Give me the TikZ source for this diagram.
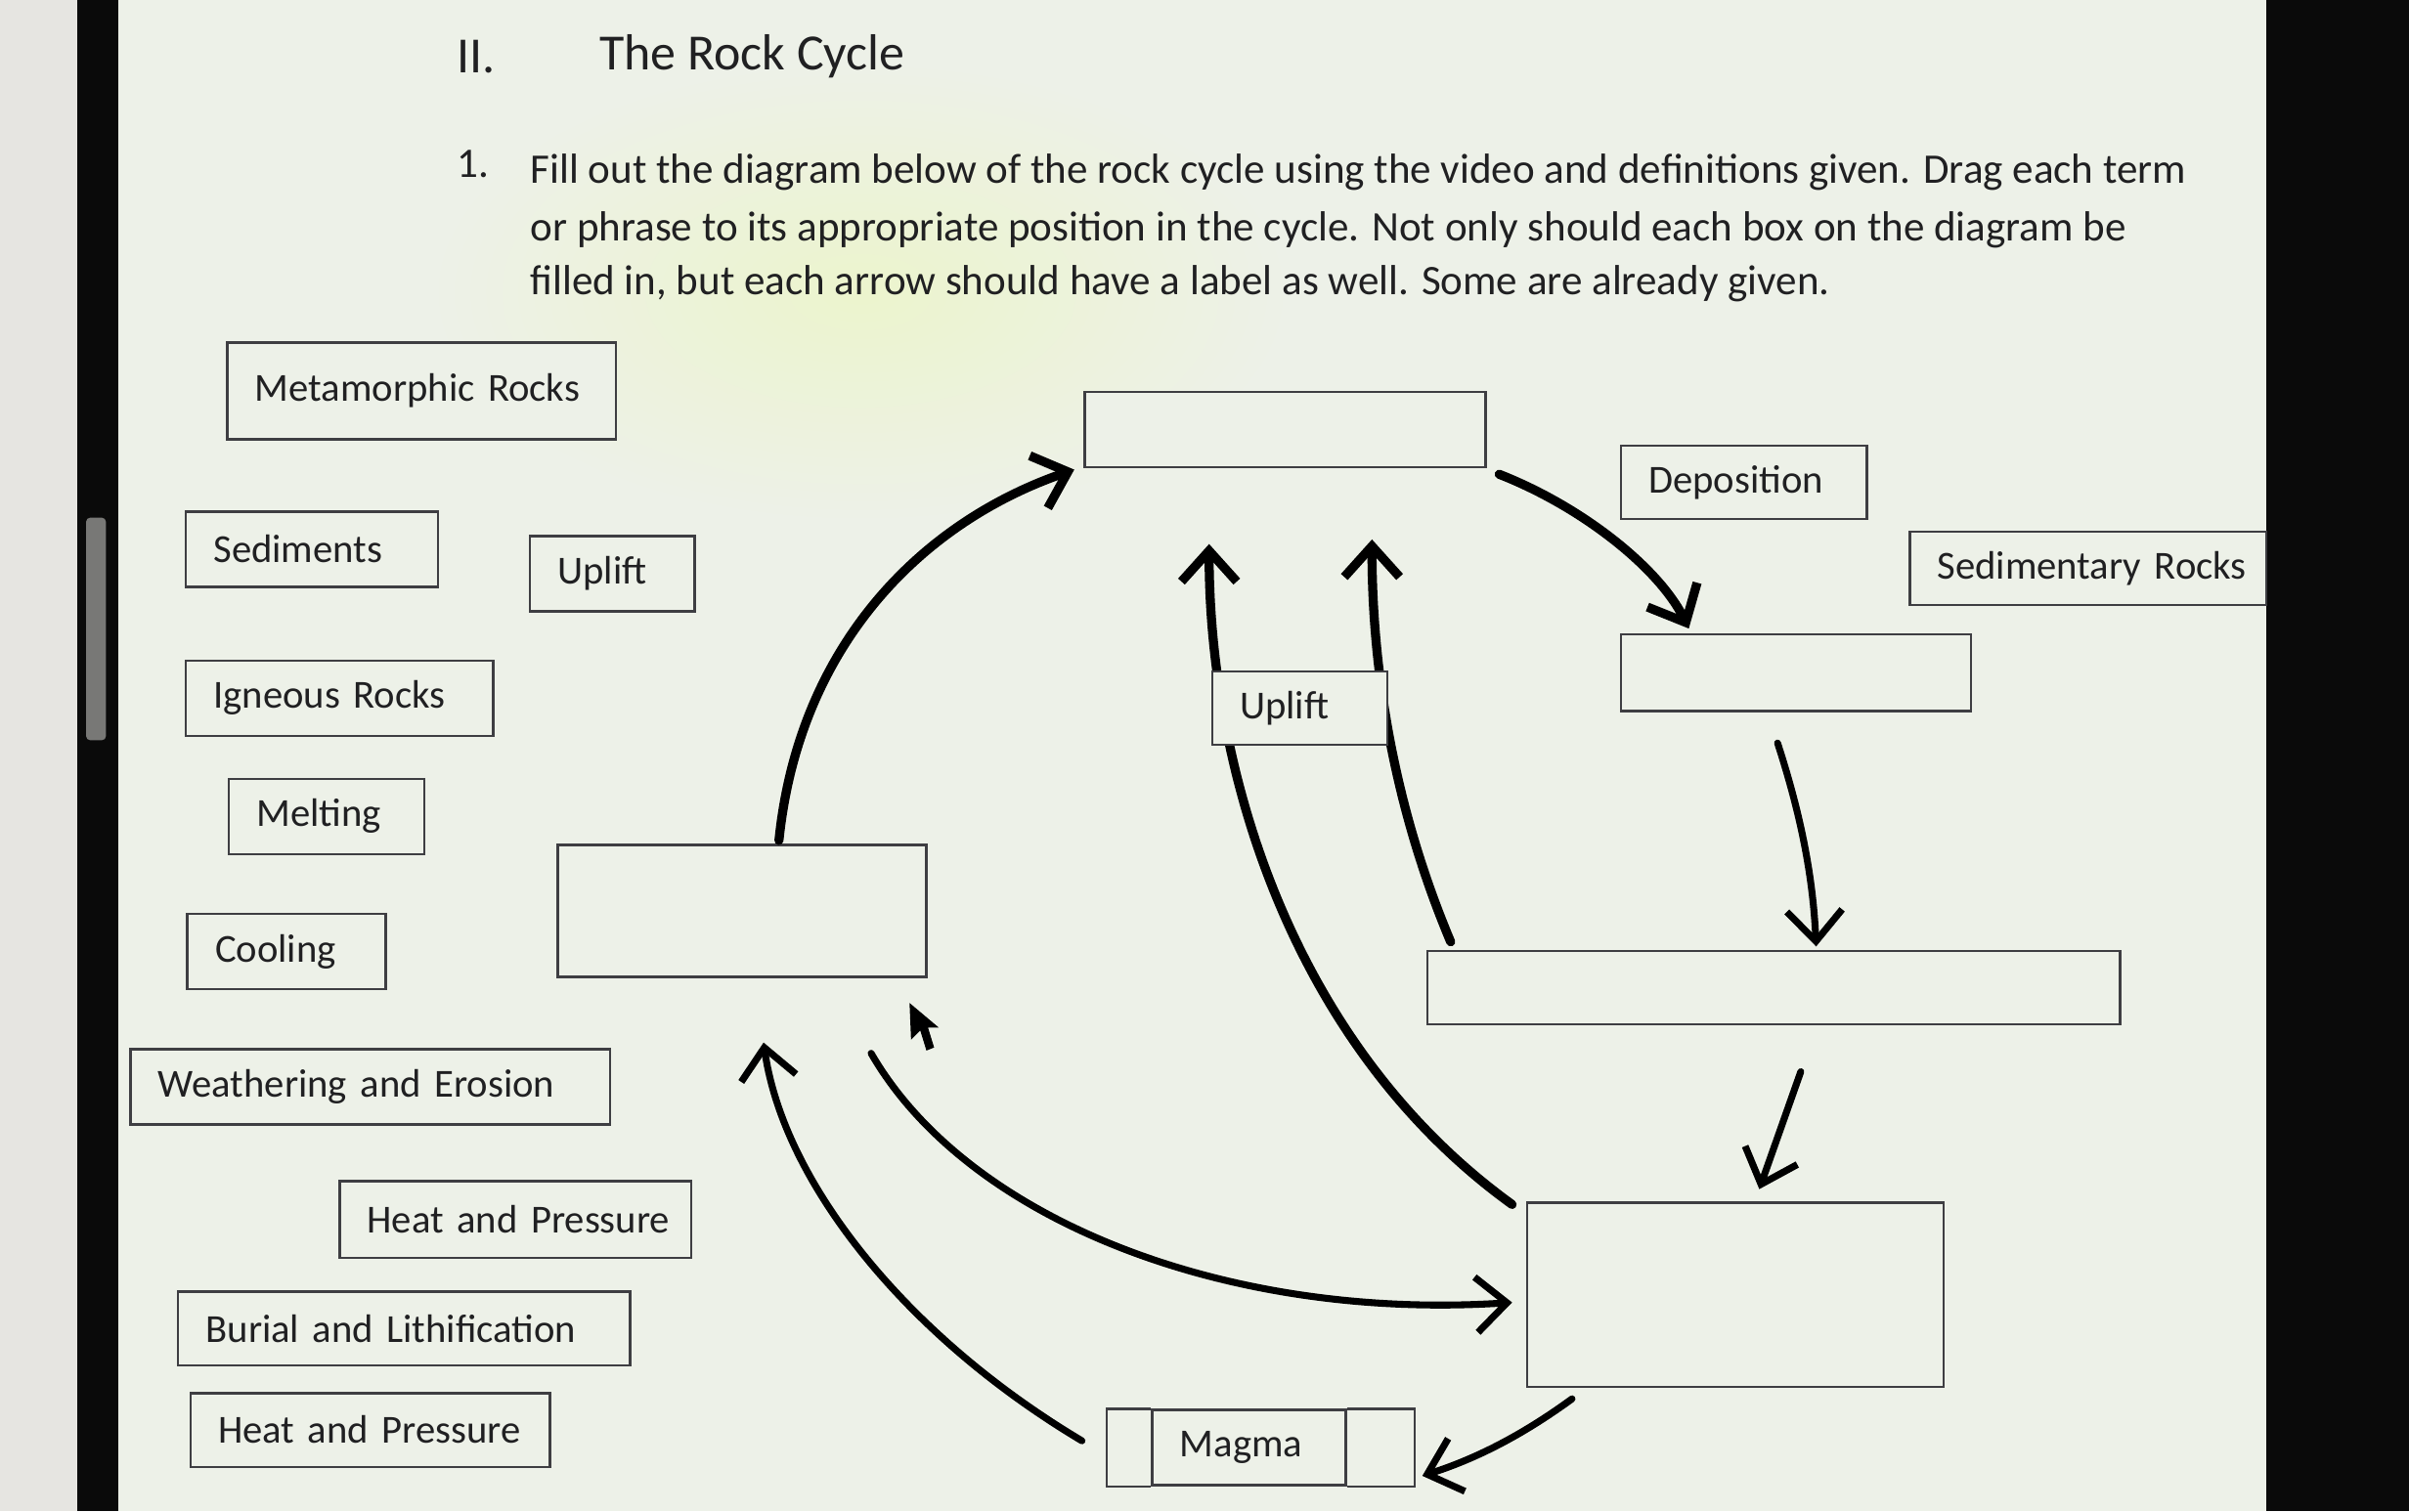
\documentclass[tikz,border=0pt]{standalone}
\usepackage{fontspec}
\setmainfont{Carlito}
\usetikzlibrary{arrows.meta}
\pgfdeclarelayer{back}
\pgfdeclarelayer{under}
\pgfsetlayers{back,under,main}
\definecolor{paper}{RGB}{237,241,232}
\definecolor{sidegray}{RGB}{230,229,225}
\definecolor{bezel}{RGB}{10,10,10}
\definecolor{handle}{RGB}{120,120,118}
\definecolor{glow}{RGB}{236,244,205}
\definecolor{boxline}{RGB}{62,62,66}
\definecolor{ink}{RGB}{32,32,34}

\begin{document}
\begin{tikzpicture}[x=0.25mm,y=-0.25mm,line width=0.8pt,>={Straight Barb[length=5mm,width=9mm]},
  cyclebox/.style={draw=boxline,line width=1.1pt,fill=paper,inner sep=0pt},
  termbox/.style={cyclebox,inner xsep=4.5mm,align=left,text=ink,font=\fontsize{18.4}{22}\selectfont,
    execute at begin node=\hbox\bgroup,execute at end node=\egroup},
  bodytext/.style={anchor=west,inner sep=0pt,text=ink,font=\fontsize{19.5}{23}\selectfont},
  flow/.style={->,line width=4.2pt,line cap=round},
  thinflow/.style={flow,line width=3.2pt}]
  \useasboundingbox (0,0) rectangle (1568,984);
  % screen and bezels
  \begin{pgfonlayer}{back}
    \fill[paper] (0,0) rectangle (1568,984);
    \shade[inner color=glow,outer color=paper] (560,190) ellipse (280 and 150);
    \fill[sidegray] (0,0) rectangle (50,984);
    \fill[bezel] (50,0) rectangle (77,984);
    \fill[handle,rounded corners=2pt] (56,337) rectangle (69,482);
    \fill[bezel] (1475,0) rectangle (1568,984);
  \end{pgfonlayer}
  % heading and instructions
  \node[bodytext,font=\fontsize{23.5}{27}\selectfont] (secnum) at (297,37) {II.};
  \node[bodytext,font=\fontsize{23.5}{27}\selectfont] (title) at (390,37) {The Rock Cycle};
  \node[bodytext] (itemnum) at (297,107) {1.};
  \node[bodytext] (lineA) at (345,112) {Fill out the diagram below of the rock cycle using the video and definitions given. Drag each term};
  \node[bodytext] (lineB) at (345,150) {or phrase to its appropriate position in the cycle. Not only should each box on the diagram be};
  \node[bodytext] (lineC) at (345,185) {filled in, but each arrow should have a label as well. Some are already given.};
  % terms to drag
  \node[termbox,text width=54.25mm,minimum height=15.75mm] (metarocks) at (274.5,254.5) {Metamorphic Rocks};
  \node[termbox,text width=32mm,minimum height=12.25mm] (sediments) at (203,357.5) {Sediments};
  \node[termbox,text width=17.75mm,minimum height=12.25mm] (upliftterm) at (398.5,373.5) {Uplift};
  \node[termbox,text width=41mm,minimum height=12.25mm] (igneous) at (221,454.5) {Igneous Rocks};
  \node[termbox,text width=22.75mm,minimum height=12.25mm] (melting) at (212.5,531.5) {Melting};
  \node[termbox,text width=23.25mm,minimum height=12.25mm] (cooling) at (186.5,619.5) {Cooling};
  \node[termbox,text width=69mm,minimum height=12.25mm] (weathering) at (241,707.5) {Weathering and Erosion};
  \node[termbox,text width=48.25mm,minimum height=12.5mm] (heatA) at (335.5,794) {Heat and Pressure};
  \node[termbox,text width=64.5mm,minimum height=12mm] (burial) at (263,865) {Burial and Lithification};
  \node[termbox,text width=49.5mm,minimum height=12mm] (heatB) at (241,931) {Heat and Pressure};
  \node[termbox,text width=31mm,minimum height=12mm] (deposition) at (1135,314) {Deposition};
  \node[termbox,text width=49mm,minimum height=12mm] (sedrocks) at (1359,370) {Sedimentary Rocks};
  % boxes of the cycle
  \node[cyclebox,minimum width=65.25mm,minimum height=12.25mm] (topbox) at (836.5,279.5) {};
  \node[cyclebox,minimum width=57mm,minimum height=12.5mm] (rupbox) at (1169,438) {};
  \node[cyclebox,minimum width=112.75mm,minimum height=12mm] (rmidbox) at (1154.5,643) {};
  \node[cyclebox,minimum width=67.75mm,minimum height=30mm] (lowbox) at (1129.5,843) {};
  \node[cyclebox,minimum width=60mm,minimum height=21.5mm] (leftbox) at (483,593) {};
  \node[termbox,text width=19.5mm,minimum height=12mm] (uplift) at (846,461) {Uplift};
  \node[termbox,text width=22.5mm,minimum height=12.25mm] (magma) at (813,942.5) {Magma};
  \draw[boxline,line width=1.1pt] (magma.north west) -- ++(-29,0) |- (magma.south west);
  \draw[boxline,line width=1.1pt] (magma.north east) -- ++(44,0) |- (magma.south east);
  % arrows of the cycle
  \draw[flow] ([xshift=6mm,yshift=0.5mm]leftbox.north) .. controls (520,420) and (600,340) .. ([xshift=-1.5mm,yshift=-0.25mm]topbox.south west);
  \draw[flow] ([xshift=2mm,yshift=-1mm]topbox.south east) .. controls (1030,330) and (1080,370) .. ([xshift=11.25mm,yshift=0.75mm]rupbox.north west);
  \draw[thinflow] ([xshift=-3mm,yshift=-5mm]rupbox.south) .. controls (1172,530) and (1180,570) .. ([xshift=6.9mm,yshift=0.5mm]rmidbox.north);
  \draw[thinflow] ([xshift=4.4mm,yshift=-7.5mm]rmidbox.south) -- ([xshift=3.9mm,yshift=2mm]lowbox.north);
  \draw[thinflow] ([xshift=7.5mm,yshift=-1.75mm]lowbox.south west) .. controls (990,935) and (960,950) .. ([xshift=12.25mm,yshift=-4.6mm]magma.east);
  \draw[thinflow] ([xshift=-11.25mm,yshift=1.1mm]magma.west) .. controls (590,870) and (510,770) .. ([xshift=3.5mm,yshift=-10.5mm]leftbox.south);
  \draw[thinflow] ([xshift=21mm,yshift=-12.25mm]leftbox.south) .. controls (630,795) and (800,860) .. ([xshift=-2.25mm,yshift=-1.25mm]lowbox.west);
  \begin{pgfonlayer}{under}
    \draw[flow] ([xshift=-2.25mm,yshift=-0.5mm]lowbox.north west) .. controls (840,680) and (787,500) .. ([xshift=-14.75mm,yshift=20.5mm]uplift.north);
    \draw[flow] ([xshift=4mm,yshift=1.25mm]rmidbox.north west) .. controls (905,520) and (893,430) .. ([xshift=11.75mm,yshift=21.25mm]uplift.north);
  \end{pgfonlayer}
  % mouse pointer
  \fill[black] (592,653) -- (593,677) -- (599,671) -- (603,684) -- (608,682) -- (604,669) -- (611,669) -- cycle;
\end{tikzpicture}
\end{document}
